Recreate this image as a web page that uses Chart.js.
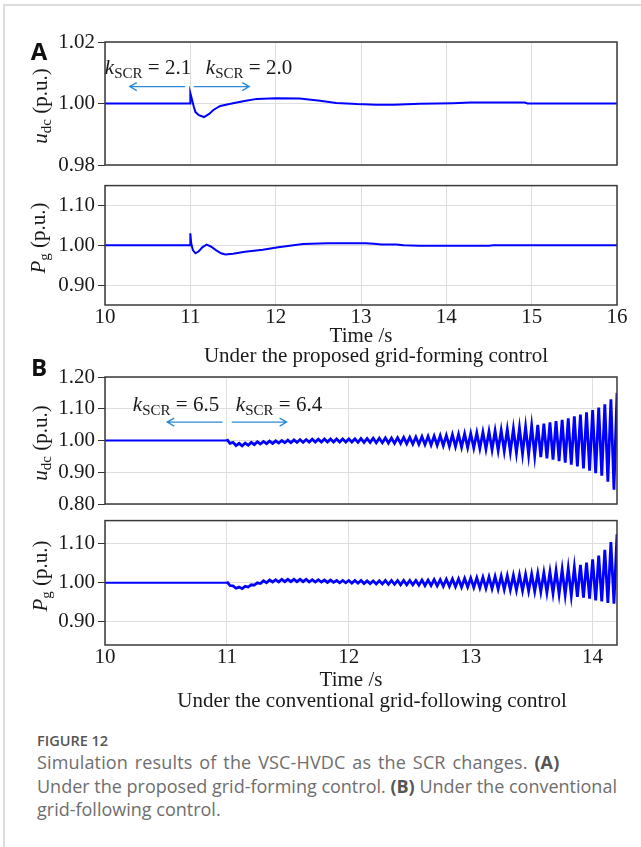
<!DOCTYPE html>
<html>
<head>
<meta charset="utf-8">
<script src="https://cdn.jsdelivr.net/npm/chart.js@4.4.1/dist/chart.umd.min.js"></script>
<style>
  html, body { margin: 0; padding: 0; background: #fff; }
  body { width: 641px; height: 847px; position: relative; overflow: hidden; font-family: "Liberation Serif", serif; color: #1a1a1a; }
  canvas { position: absolute; left: 0; }
  .frame { position: absolute; left: 3px; top: 4px; width: 700px; height: 900px; border-left: 2px solid #ddd; border-top: 2px solid #ddd; }
  .txt { position: absolute; white-space: nowrap; font-size: 21px; line-height: 1; transform: translate(-50%, -50%); }
  .ytitle { transform: translate(-50%, -50%) rotate(-90deg); }
  .txt sub { font-size: 15px; vertical-align: -4px; line-height: 0; }
  .letter { position: absolute; font-family: "Open Sans", sans-serif; font-weight: 700; font-size: 24px; line-height: 1; color: #111; transform: translate(-50%, -50%); }
  .caption { position: absolute; left: 37px; top: 731px; font-family: "Open Sans", sans-serif; color: #6e6e6e; font-size: 18px; line-height: 23.5px; white-space: nowrap; }
  .caption .fig { font-size: 14.5px; font-weight: 600; line-height: 20px; color: #555; }
  .caption b { color: #555; }
  .caption .l1 { word-spacing: 2px; letter-spacing: 0.15px; }
</style>
</head>
<body>
<div class="frame"></div>

<canvas id="chartA1" width="641" height="195" style="top:0px"></canvas>
<canvas id="chartA2" width="641" height="160" style="top:170px"></canvas>
<canvas id="chartB1" width="641" height="170" style="top:360px"></canvas>
<canvas id="chartB2" width="641" height="170" style="top:505px"></canvas>

<div class="letter" style="left:39px; top:51px">A</div>
<div class="letter" style="left:39px; top:367px">B</div>

<div class="txt ytitle" style="left:40px; top:106px"><i>u</i><sub>dc</sub> (p.u.)</div>
<div class="txt ytitle" style="left:38px; top:238px"><i>P</i><sub>g</sub> (p.u.)</div>
<div class="txt ytitle" style="left:40px; top:443px"><i>u</i><sub>dc</sub> (p.u.)</div>
<div class="txt ytitle" style="left:40px; top:576px"><i>P</i><sub>g</sub> (p.u.)</div>

<div class="txt" style="left:148px; top:67px"><i>k</i><sub>SCR</sub> = 2.1</div>
<div class="txt" style="left:249px; top:67px"><i>k</i><sub>SCR</sub> = 2.0</div>
<div class="txt" style="left:176px; top:404px"><i>k</i><sub>SCR</sub> = 6.5</div>
<div class="txt" style="left:279px; top:404px"><i>k</i><sub>SCR</sub> = 6.4</div>

<div class="txt" style="left:361px; top:335px">Time /s</div>
<div class="txt" style="left:376px; top:355px">Under the proposed grid-forming control</div>
<div class="txt" style="left:351px; top:679px">Time /s</div>
<div class="txt" style="left:372px; top:700px">Under the conventional grid-following control</div>

<div class="caption">
  <div class="fig">FIGURE 12</div>
  <span class="l1">Simulation results of the VSC-HVDC as the SCR changes. <b>(A)</b></span><br>
  Under the proposed grid-forming control. <b>(B)</b> Under the conventional<br>
  grid-following control.
</div>

<script>
// ---- data ----

// (A) grid-forming control
const tA1 = [10, 10.998, 11.0, 11.02, 11.04, 11.06, 11.1, 11.16, 11.22, 11.27,
  11.35, 11.5, 11.65, 11.78, 12.0, 12.28, 12.52, 12.71, 12.95, 13.18,
  13.38, 13.69, 14.08, 14.28, 14.92, 14.95, 16]
const udcA = [1.000, 1.000, 1.0034, 1.0012, 0.9990, 0.9972, 0.9962, 0.9956, 0.9966, 0.9979,
  0.9992, 1.0001, 1.0009, 1.0015, 1.0017, 1.0016, 1.0009, 1.0002, 0.9998, 0.9996,
  0.9996, 0.9999, 1.0001, 1.0003, 1.0003, 1.0000, 1.0000]

const tA2 = [10, 10.998, 11.0, 11.01, 11.03, 11.06, 11.1, 11.14, 11.19, 11.24,
  11.3, 11.36, 11.41, 11.5, 11.64, 11.85, 12.03, 12.32, 12.61, 13.05,
  13.15, 13.24, 13.41, 13.5, 13.68, 14.5, 14.55, 16]
const pgA = [1.000, 1.000, 1.030, 1.005, 0.988, 0.980, 0.985, 0.995, 1.0016, 0.997,
  0.988, 0.980, 0.977, 0.979, 0.984, 0.989, 0.995, 1.003, 1.005, 1.005,
  1.004, 1.002, 1.002, 1.000, 0.999, 0.999, 1.000, 1.000]

// (B) grid-following control, peaks/troughs of the growing oscillation
const tB = [10, 10.995,
  11.000, 11.025, 11.050, 11.075, 11.100, 11.125, 11.150, 11.175, 11.200, 11.225,
  11.250, 11.275, 11.300, 11.325, 11.350, 11.375, 11.400, 11.425, 11.450, 11.475,
  11.500, 11.525, 11.550, 11.575, 11.600, 11.625, 11.650, 11.675, 11.700, 11.725,
  11.750, 11.775, 11.800, 11.825, 11.850, 11.875, 11.900, 11.925, 11.950, 11.975,
  12.000, 12.025, 12.050, 12.075, 12.100, 12.125, 12.150, 12.175, 12.200, 12.225,
  12.250, 12.275, 12.300, 12.325, 12.350, 12.375, 12.400, 12.425, 12.450, 12.475,
  12.500, 12.525, 12.550, 12.575, 12.600, 12.625, 12.650, 12.675, 12.700, 12.725,
  12.750, 12.775, 12.800, 12.825, 12.850, 12.875, 12.900, 12.925, 12.950, 12.975,
  13.000, 13.025, 13.050, 13.075, 13.100, 13.125, 13.150, 13.175, 13.200, 13.225,
  13.250, 13.275, 13.300, 13.325, 13.350, 13.375, 13.400, 13.425, 13.450, 13.475,
  13.500, 13.525, 13.550, 13.575, 13.600, 13.625, 13.650, 13.675, 13.700, 13.725,
  13.750, 13.775, 13.800, 13.825, 13.850, 13.875, 13.900, 13.925, 13.950, 13.975,
  14.000, 14.025, 14.050, 14.075, 14.100, 14.125, 14.150, 14.175, 14.200]
const udcB = [1.000, 1.000,
  1.004, 0.991, 0.994, 0.984, 0.991, 0.983, 0.992, 0.985, 0.994, 0.987,
  0.996, 0.989, 0.997, 0.990, 0.998, 0.991, 0.999, 0.992, 1.000, 0.993,
  1.001, 0.993, 1.002, 0.994, 1.003, 0.994, 1.003, 0.995, 1.004, 0.995,
  1.004, 0.995, 1.005, 0.995, 1.005, 0.995, 1.005, 0.995, 1.005, 0.995,
  1.005, 0.995, 1.005, 0.994, 1.006, 0.994, 1.006, 0.994, 1.007, 0.993,
  1.007, 0.993, 1.008, 0.992, 1.008, 0.991, 1.009, 0.991, 1.010, 0.990,
  1.010, 0.989, 1.011, 0.988, 1.012, 0.987, 1.013, 0.986, 1.014, 0.985,
  1.015, 0.984, 1.016, 0.982, 1.018, 0.981, 1.019, 0.979, 1.021, 0.978,
  1.022, 0.977, 1.024, 0.975, 1.026, 0.973, 1.028, 0.971, 1.030, 0.969,
  1.032, 0.967, 1.035, 0.964, 1.037, 0.961, 1.040, 0.958, 1.043, 0.955,
  1.046, 0.952, 1.049, 0.948, 1.053, 0.944, 1.057, 0.940, 1.061, 0.935,
  1.065, 0.930, 1.070, 0.924, 1.076, 0.918, 1.082, 0.912, 1.089, 0.905,
  1.096, 0.897, 1.104, 0.889, 1.114, 0.870, 1.130, 0.845, 1.150]
const pgB = [1.000, 1.000,
  1.003, 0.993, 0.992, 0.986, 0.989, 0.985, 0.991, 0.989, 0.995, 0.994,
  1.000, 0.998, 1.005, 1.000, 1.007, 1.002, 1.008, 1.002, 1.009, 1.003,
  1.009, 1.003, 1.009, 1.003, 1.009, 1.003, 1.009, 1.002, 1.008, 1.002,
  1.008, 1.002, 1.007, 1.001, 1.007, 1.001, 1.006, 1.000, 1.006, 1.000,
  1.006, 0.999, 1.006, 0.999, 1.006, 0.998, 1.005, 0.998, 1.005, 0.997,
  1.005, 0.997, 1.006, 0.996, 1.006, 0.996, 1.006, 0.995, 1.006, 0.995,
  1.006, 0.995, 1.006, 0.994, 1.007, 0.993, 1.007, 0.993, 1.008, 0.992,
  1.008, 0.991, 1.009, 0.991, 1.010, 0.990, 1.010, 0.989, 1.011, 0.989,
  1.012, 0.988, 1.013, 0.987, 1.014, 0.986, 1.015, 0.985, 1.016, 0.984,
  1.017, 0.983, 1.018, 0.982, 1.019, 0.981, 1.020, 0.980, 1.021, 0.979,
  1.022, 0.978, 1.024, 0.977, 1.026, 0.975, 1.028, 0.973, 1.031, 0.971,
  1.034, 0.969, 1.037, 0.967, 1.040, 0.964, 1.046, 0.962, 1.052, 0.959,
  1.060, 0.955, 1.070, 0.952, 1.085, 0.948, 1.105, 0.946, 1.125]

// tick values
const xTicksA = [10, 11, 12, 13, 14, 15, 16]
const xTicksB = [10, 11, 12, 13, 14]
const yTicksA1 = [0.98, 1.00, 1.02]
const yTicksPg = [0.90, 1.00, 1.10]
const yTicksB1 = [0.80, 0.90, 1.00, 1.10, 1.20]

// ---- drawing ----

const tickFont = { family: 'Liberation Serif', size: 21 }

// closed box around the plot area
const framePlugin = {
  id: 'frame',
  afterDraw(chart) {
    const { ctx, chartArea: a } = chart
    ctx.save()
    ctx.strokeStyle = '#3a3a3a'
    ctx.lineWidth = 1.5
    ctx.strokeRect(a.left, a.top, a.right - a.left, a.bottom - a.top)
    ctx.restore()
  }
}

// k_SCR arrows, given in data units
function arrowPlugin(arrows) {
  return {
    id: 'arrows',
    afterDraw(chart) {
      const { ctx, scales } = chart
      ctx.save()
      ctx.strokeStyle = '#2a8ad8'
      ctx.lineWidth = 1.3
      arrows.forEach(a => {
        const x1 = scales.x.getPixelForValue(a.from)
        const x2 = scales.x.getPixelForValue(a.to)
        const y = scales.y.getPixelForValue(a.y)
        const hx = a.head === 'left' ? x1 : x2
        const dir = a.head === 'left' ? 1 : -1
        ctx.beginPath()
        ctx.moveTo(x1, y)
        ctx.lineTo(x2, y)
        ctx.moveTo(hx + dir * 7, y - 4)
        ctx.lineTo(hx, y)
        ctx.lineTo(hx + dir * 7, y + 4)
        ctx.stroke()
      })
      ctx.restore()
    }
  }
}

function makePanel(id, cfg) {
  const canvas = document.getElementById(id)
  return new Chart(canvas, {
    type: 'line',
    data: {
      datasets: [{
        data: cfg.t.map((t, i) => ({ x: t, y: cfg.v[i] })),
        borderColor: '#0000ff',
        borderWidth: 2,
        // the dense oscillation after the SCR step is drawn heavier
        segment: { borderWidth: c => (c.p0.parsed.x >= 11 ? cfg.lwOsc : 2) },
        pointRadius: 0,
        tension: 0
      }]
    },
    options: {
      responsive: false,
      animation: false,
      events: [],
      layout: { padding: { left: 0, right: 24, top: cfg.padTop, bottom: cfg.padBottom } },
      plugins: { legend: { display: false }, tooltip: { enabled: false } },
      scales: {
        x: {
          type: 'linear',
          min: cfg.xMin,
          max: cfg.xMax,
          afterBuildTicks: s => { s.ticks = cfg.xTicks.map(v => ({ value: v })) },
          afterFit: s => { s.height = cfg.xh },
          grid: { color: '#dedede', drawTicks: false },
          border: { display: false },
          ticks: { display: cfg.xh > 0, padding: 0, color: '#1a1a1a', font: tickFont, maxRotation: 0 }
        },
        y: {
          min: cfg.yMin,
          max: cfg.yMax,
          afterBuildTicks: s => { s.ticks = cfg.yTicks.map(v => ({ value: v })) },
          afterFit: s => { s.width = 105 },
          grid: { color: '#dedede', tickColor: '#333', tickLength: 7 },
          border: { display: false },
          ticks: { padding: 3, color: '#1a1a1a', font: tickFont, callback: v => v.toFixed(2) }
        }
      }
    },
    plugins: [framePlugin, arrowPlugin(cfg.arrows || [])]
  })
}

makePanel('chartA1', {
  t: tA1, v: udcA, lwOsc: 2,
  xMin: 10, xMax: 16, xTicks: xTicksA, xh: 0,
  yMin: 0.98, yMax: 1.02, yTicks: yTicksA1,
  padTop: 42, padBottom: 30,
  arrows: [
    { from: 10.29, to: 10.94, y: 1.0055, head: 'left' },
    { from: 11.04, to: 11.69, y: 1.0055, head: 'right' }
  ]
})

makePanel('chartA2', {
  t: tA2, v: pgA, lwOsc: 2,
  xMin: 10, xMax: 16, xTicks: xTicksA, xh: 22,
  yMin: 0.85, yMax: 1.15, yTicks: yTicksPg,
  padTop: 13, padBottom: 3
})

makePanel('chartB1', {
  t: tB, v: udcB, lwOsc: 2.8,
  xMin: 10, xMax: 14.2, xTicks: xTicksB, xh: 0,
  yMin: 0.80, yMax: 1.20, yTicks: yTicksB1,
  padTop: 17, padBottom: 26,
  arrows: [
    { from: 10.51, to: 10.965, y: 1.058, head: 'left' },
    { from: 11.04, to: 11.49, y: 1.058, head: 'right' }
  ]
})

makePanel('chartB2', {
  t: tB, v: pgB, lwOsc: 2.8,
  xMin: 10, xMax: 14.2, xTicks: xTicksB, xh: 22,
  yMin: 0.84, yMax: 1.16, yTicks: yTicksPg,
  padTop: 14, padBottom: 8
})
</script>
</body>
</html>
